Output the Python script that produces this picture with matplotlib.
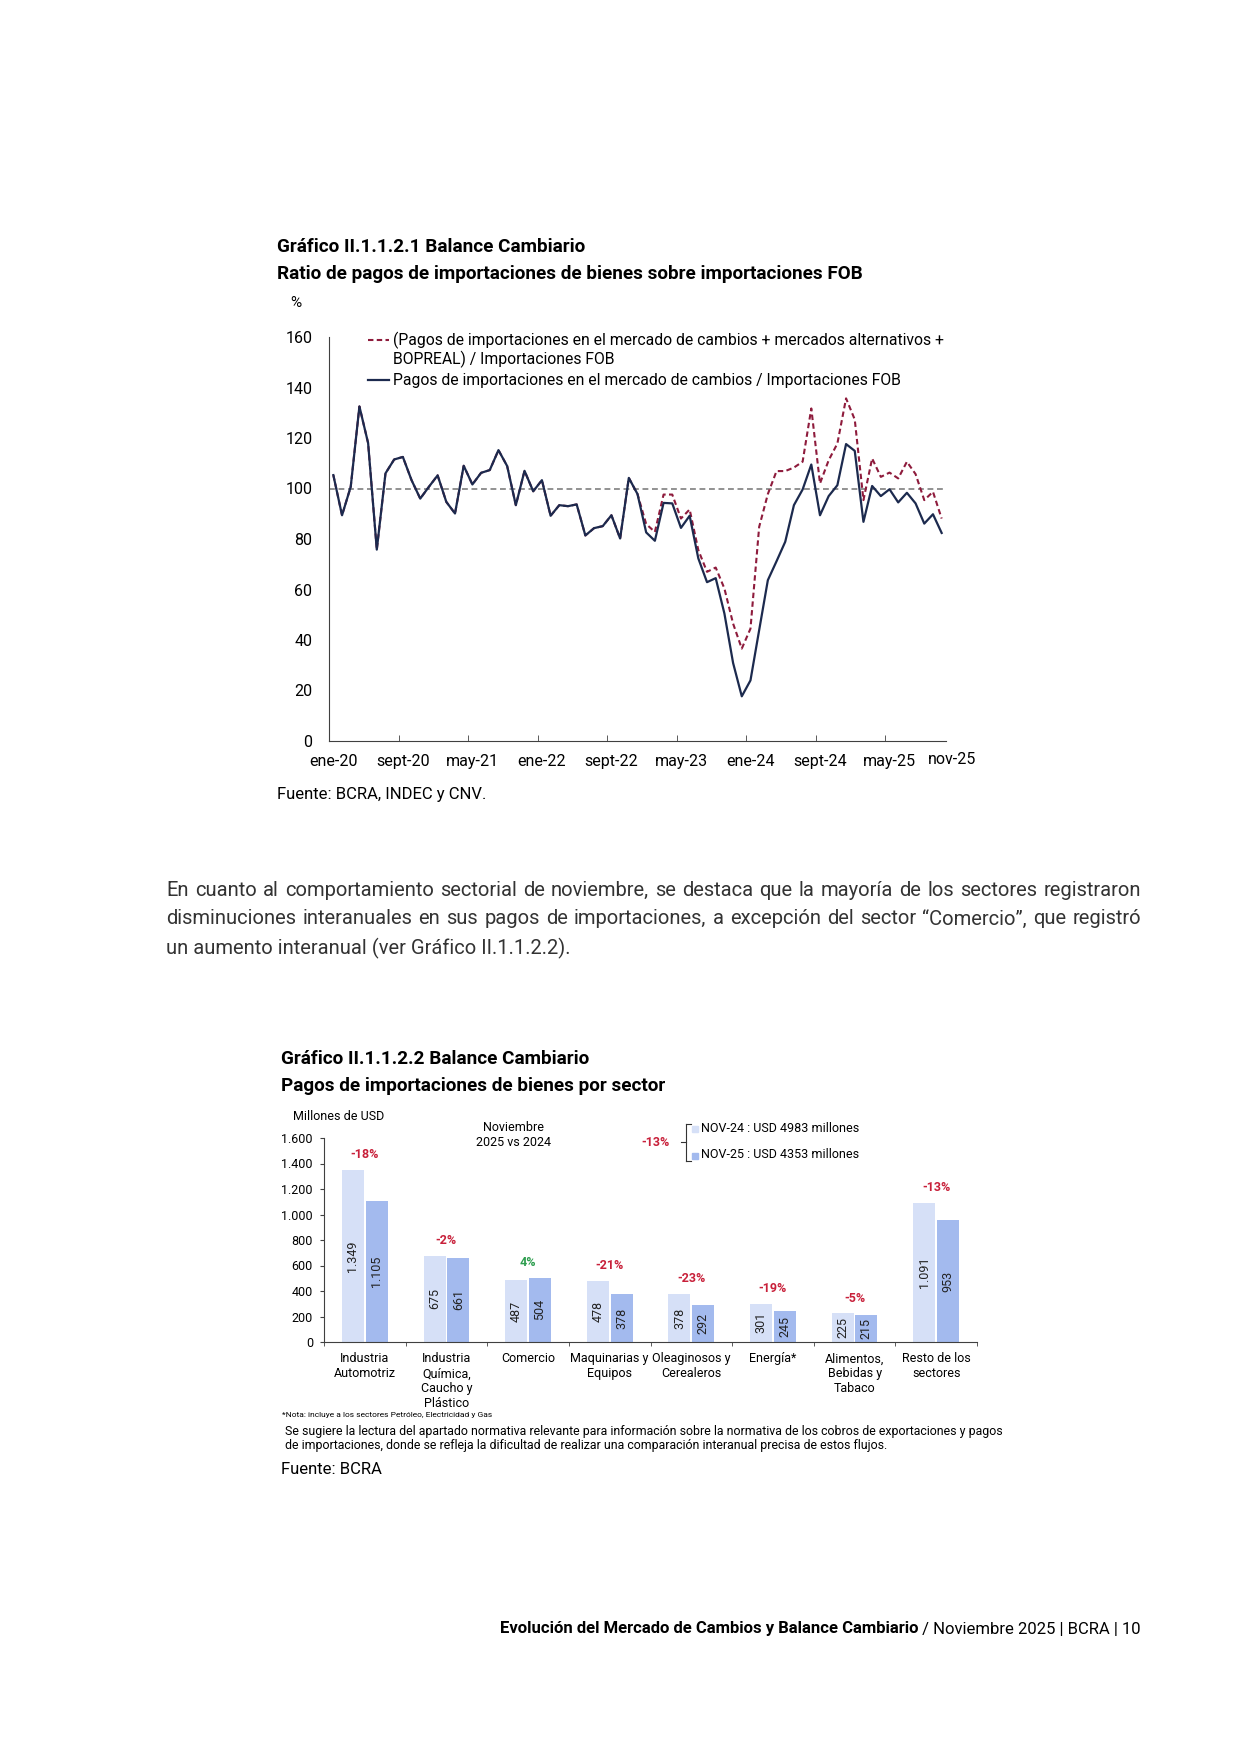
import matplotlib
matplotlib.use('Agg')
import matplotlib.pyplot as plt
import matplotlib.transforms as mtransforms
from matplotlib.lines import Line2D
from matplotlib.patches import Rectangle
import numpy as np

plt.rcParams['font.family'] = ['Roboto', 'DejaVu Sans']

# --- chart 1: ratio of import payments / FOB imports, monthly ene-20 .. nov-25
tick_labels = ['ene-20', 'sept-20', 'may-21', 'ene-22', 'sept-22',
               'may-23', 'ene-24', 'sept-24', 'may-25', 'nov-25']
ratio_mlc = [105.3, 89.4, 100.7, 132.5, 118.0, 75.8, 106.0, 111.5, 112.5, 103.3,
             96.0, 100.7, 105.2, 94.7, 90.1, 109.0, 101.6, 106.2, 107.3, 115.2,
             108.9, 93.4, 107.0, 98.9, 103.3, 89.2, 93.4, 93.0, 93.7, 81.4,
             84.3, 85.1, 89.4, 80.2, 104.2, 97.8, 82.6, 79.3, 94.3, 94.1,
             84.4, 89.2, 72.3, 62.9, 64.5, 50.5, 30.9, 17.7, 24.0, 43.9,
             63.7, 71.2, 78.9, 93.4, 99.6, 109.5, 89.4, 97.0, 101.3, 117.6,
             114.9, 86.8, 101.0, 97.0, 99.7, 94.5, 98.3, 94.1, 86.1, 89.8,
             82.4]
ratio_total = [105.3, 89.4, 100.7, 132.5, 118.0, 75.8, 106.0, 111.5, 112.5, 103.3,
               96.0, 100.7, 105.2, 94.7, 90.1, 109.0, 101.6, 106.2, 107.3, 115.2,
               108.9, 93.4, 107.0, 98.9, 103.3, 89.2, 93.4, 93.0, 93.7, 81.4,
               84.3, 85.1, 89.4, 80.2, 104.2, 97.8, 85.9, 82.8, 97.6, 97.6,
               88.1, 91.7, 75.6, 67.0, 68.7, 60.4, 46.5, 36.6, 44.5, 84.8,
               97.8, 106.9, 106.9, 108.3, 110.6, 131.7, 102.0, 111.2, 117.8, 135.7,
               127.3, 95.4, 111.9, 104.6, 106.3, 104.0, 110.6, 105.7, 95.4, 98.7,
               88.1]

# --- chart 2: import payments by sector (USD millions)
sectors = ['Industria\nAutomotriz', 'Industria\nQuímica,\nCaucho y\nPlástico',
           'Comercio', 'Maquinarias y\nEquipos', 'Oleaginosos y\nCerealeros',
           'Energía*', 'Alimentos,\nBebidas y\nTabaco', 'Resto de los\nsectores']
nov24 = [1349, 675, 487, 478, 378, 301, 225, 1091]
nov25 = [1105, 661, 504, 378, 292, 245, 215, 953]
var_pct = ['-18%', '-2%', '4%', '-21%', '-23%', '-19%', '-5%', '-13%']

navy = '#1c2a4e'
maroon = '#8e1b3c'
light = '#d6e0f7'
dark = '#a3baee'
red = '#c8203a'
green = '#2e9e4f'

W, H = 1241, 1755
fig = plt.figure(figsize=(W / 100, H / 100), dpi=100)


def fx(px):
    return px / W


def fy(py):
    return 1 - py / H


def ftext(px, py, s, **kw):
    kw.setdefault('va', 'center')
    return fig.text(fx(px), fy(py), s, **kw)


def thousands(v):
    return f'{v:,}'.replace(',', '.')


renderer = fig.canvas.get_renderer()


def justify(line, x0, x1, py, **kw):
    words = line.split()
    texts = [ftext(0, py, w, **kw) for w in words]
    widths = [t.get_window_extent(renderer).width for t in texts]
    gap = (x1 - x0 - sum(widths)) / (len(words) - 1)
    xpos = x0
    for t, w in zip(texts, widths):
        t.set_x(fx(xpos))
        xpos += w + gap


# ---------------- chart 1
ftext(277, 247, 'Gráfico II.1.1.2.1 Balance Cambiario', fontsize=13.6, fontweight='bold')
ftext(277, 274, 'Ratio de pagos de importaciones de bienes sobre importaciones FOB',
      fontsize=13.6, fontweight='bold')
ftext(290, 303, '%', fontsize=11)

ax1 = fig.add_axes([fx(329), fy(741), fx(946) - fx(329), fy(337) - fy(741)])
x = np.arange(len(ratio_mlc))
ax1.axhline(100, color='#7f7f7f', lw=1.2, ls=(0, (3.5, 2.2)), zorder=1)
ax1.plot(x, ratio_total, color=maroon, lw=1.5, ls=(0, (2.6, 1.6)), zorder=2)
ax1.plot(x, ratio_mlc, color=navy, lw=1.6, zorder=3)
ax1.set_xlim(-0.5, len(x) - 0.5)
ax1.set_ylim(0, 160)
ax1.set_yticks(range(0, 161, 20))
ax1.tick_params(axis='y', length=0, pad=12, labelsize=11.5)
ax1.set_xticks(list(range(0, 65, 8)) + [70])
ax1.set_xticklabels(tick_labels)
ax1.set_xticks(np.arange(-0.5, 70, 8), minor=True)
ax1.tick_params(axis='x', which='major', length=0, pad=9, labelsize=11.5)
ax1.tick_params(axis='x', which='minor', direction='in', length=4, color='#404040')
for s in ['top', 'right']:
    ax1.spines[s].set_visible(False)
for s in ['left', 'bottom']:
    ax1.spines[s].set_color('#404040')
last = ax1.get_xticklabels()[-1]
last.set_transform(last.get_transform() +
                   mtransforms.ScaledTranslation(0.10, 0.02, fig.dpi_scale_trans))

# legend of chart 1
fig.add_artist(Line2D([fx(368), fx(389)], [fy(340), fy(340)], color=maroon, lw=1.5,
                      ls=(0, (2.6, 1.6))))
ftext(393, 340, '(Pagos de importaciones en el mercado de cambios + mercados alternativos +',
      fontsize=11.3)
ftext(393, 359, 'BOPREAL) / Importaciones FOB', fontsize=11.3)
fig.add_artist(Line2D([fx(368), fx(389)], [fy(380), fy(380)], color=navy, lw=1.6))
ftext(393, 380, 'Pagos de importaciones en el mercado de cambios / Importaciones FOB',
      fontsize=11.3)

ftext(277, 795, 'Fuente: BCRA, INDEC y CNV.', fontsize=12)

# ---------------- paragraph
para = dict(fontsize=14.5, color='#333333')
justify('En cuanto al comportamiento sectorial de noviembre, se destaca que la mayoría '
        'de los sectores registraron', 166, 1141, 890, **para)
justify('disminuciones interanuales en sus pagos de importaciones, a excepción del sector '
        '“Comercio”, que registró', 166, 1141, 919, **para)
ftext(166, 948, 'un aumento interanual (ver Gráfico II.1.1.2.2).', **para)

# ---------------- chart 2
ftext(281, 1059, 'Gráfico II.1.1.2.2 Balance Cambiario', fontsize=13.6, fontweight='bold')
ftext(281, 1086, 'Pagos de importaciones de bienes por sector', fontsize=13.6,
      fontweight='bold')
ftext(293, 1117, 'Millones de USD', fontsize=9)

ax2 = fig.add_axes([fx(324), fy(1342), fx(977) - fx(324), fy(1138) - fy(1342)])
xc = np.arange(len(sectors))
bw = 0.27
bars24 = ax2.bar(xc - 0.145, nov24, bw, color=light)
bars25 = ax2.bar(xc + 0.145, nov25, bw, color=dark)
for bars, vals in [(bars24, nov24), (bars25, nov25)]:
    for r, v in zip(bars, vals):
        ax2.text(r.get_x() + r.get_width() / 2, v / 2, thousands(v), rotation=90,
                 ha='center', va='center', fontsize=9, color='#222222')
for i, p in enumerate(var_pct):
    ax2.annotate(p, (i, max(nov24[i], nov25[i])), xytext=(0, 11), textcoords='offset points',
                 ha='center', va='center', fontsize=9, fontweight='bold',
                 color=green if not p.startswith('-') else red)
ax2.set_xlim(-0.5, len(sectors) - 0.5)
ax2.set_ylim(0, 1600)
yt = list(range(0, 1601, 200))
ax2.set_yticks(yt)
ax2.set_yticklabels([thousands(v) for v in yt])
ax2.tick_params(axis='y', length=3, pad=5, labelsize=9, color='#404040')
ax2.set_xticks(xc)
ax2.set_xticklabels(sectors, fontsize=9, linespacing=1.2)
ax2.set_xticks(np.arange(-0.5, len(sectors), 1), minor=True)
ax2.tick_params(axis='x', which='major', length=0, pad=7.5)
ax2.tick_params(axis='x', which='minor', direction='out', length=3, color='#404040')
for s in ['top', 'right']:
    ax2.spines[s].set_visible(False)
for s in ['left', 'bottom']:
    ax2.spines[s].set_color('#404040')

# bracket legend of chart 2
ftext(513, 1135, 'Noviembre\n2025 vs 2024', fontsize=9, ha='center', linespacing=1.2)
ftext(656, 1142, '-13%', fontsize=9, fontweight='bold', color=red, ha='center')
for xs, ys in [([686, 686], [1124, 1161]), ([686, 691], [1124, 1124]),
               ([686, 691], [1161, 1161]), ([681, 686], [1142, 1142])]:
    fig.add_artist(Line2D([fx(v) for v in xs], [fy(v) for v in ys], color='#333333', lw=0.8))
fig.add_artist(Rectangle((fx(692), fy(1131.5)), 5.5 / W, 5.5 / H, color=light))
fig.add_artist(Rectangle((fx(692), fy(1158.5)), 5.5 / W, 5.5 / H, color=dark))
ftext(701, 1128, 'NOV-24 : USD 4983 millones', fontsize=9)
ftext(701, 1155, 'NOV-25 : USD 4353 millones', fontsize=9)

ftext(282, 1415, '*Nota: incluye a los sectores Petróleo, Electricidad y Gas', fontsize=6)
ftext(285, 1431, 'Se sugiere la lectura del apartado normativa relevante para información sobre '
      'la normativa de los cobros de exportaciones y pagos', fontsize=8.95)
ftext(285, 1446, 'de importaciones, donde se refleja la dificultad de realizar una comparación '
      'interanual precisa de estos flujos.', fontsize=8.95)
ftext(281, 1470, 'Fuente: BCRA', fontsize=12)

# ---------------- footer
foot = ftext(1141, 1629, ' / Noviembre 2025 | BCRA | 10', fontsize=12, ha='right')
fw = foot.get_window_extent(renderer).width
ftext(1141 - fw, 1629, 'Evolución del Mercado de Cambios y Balance Cambiario',
      fontsize=12, fontweight='bold', ha='right')

fig.savefig('out.png', dpi=100)
